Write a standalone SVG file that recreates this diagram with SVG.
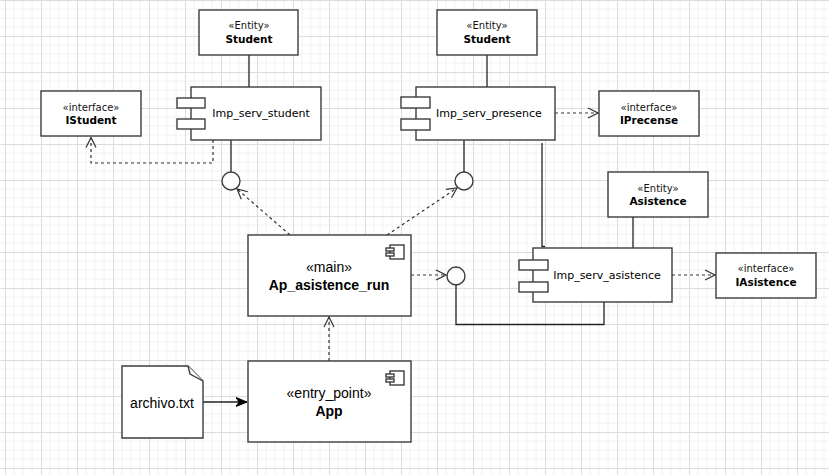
<svg xmlns="http://www.w3.org/2000/svg" width="829" height="475" viewBox="0 0 829 475">
<defs>
<pattern id="grid" patternUnits="userSpaceOnUse" x="5" y="0" width="36" height="36">
<path d="M9,0V36M18,0V36M27,0V36M0,9H36M0,18H36M0,27H36" stroke="#f2f2f2" stroke-width="1" fill="none"/>
<path d="M0.5,0V36M0,0.5H36" stroke="#dcdcdc" stroke-width="1" fill="none"/>
</pattern>
<marker id="open" markerUnits="userSpaceOnUse" viewBox="0 0 12 12" refX="11" refY="6" markerWidth="12" markerHeight="12" orient="auto">
<path d="M1,1 L11,6 L1,11" fill="none" stroke="#333" stroke-width="1.2"/>
</marker>
<marker id="block" markerUnits="userSpaceOnUse" viewBox="0 0 12 10" refX="11" refY="5" markerWidth="12" markerHeight="10" orient="auto">
<path d="M0,0.5 L11,5 L0,9.5 L3,5 Z" fill="#000" stroke="#000" stroke-width="1"/>
</marker>
</defs>
<style>
.box{fill:#fff;stroke:#3c3c3c;stroke-width:1.4}
.ln{fill:none;stroke:#222;stroke-width:1.3}
.dash{fill:none;stroke:#333;stroke-width:1.2;stroke-dasharray:3 3}
.st{font-family:"DejaVu Sans",Verdana,sans-serif;font-size:10px;fill:#111;text-anchor:middle}
.nm{font-family:"DejaVu Sans",Verdana,sans-serif;font-size:10.5px;font-weight:bold;fill:#000;text-anchor:middle}
.cp{font-family:"DejaVu Sans",Verdana,sans-serif;font-size:11px;fill:#000;text-anchor:middle}
.hs{font-family:"Liberation Sans",Arial,sans-serif;font-size:14px;fill:#000;text-anchor:middle}
.hb{font-family:"Liberation Sans",Arial,sans-serif;font-size:14px;font-weight:bold;fill:#000;text-anchor:middle}
</style>
<rect width="829" height="475" fill="#fff"/>
<rect width="829" height="475" fill="url(#grid)"/>

<g id="connectors">
<line class="ln" x1="249" y1="55" x2="249" y2="87"/>
<line class="ln" x1="487" y1="55" x2="487" y2="87"/>
<line class="ln" x1="633" y1="217" x2="633" y2="248"/>
<line class="ln" x1="231" y1="140" x2="231" y2="172"/>
<line class="ln" x1="464" y1="140" x2="464" y2="172"/>
<path class="ln" d="M542,143 V246.5 H545"/>
<path class="ln" d="M456,285 V324.5 H604 V302"/>
<path class="dash" d="M213,140 V163 H91 V137.5" marker-end="url(#open)"/>
<line class="dash" x1="555" y1="113" x2="598" y2="113" marker-end="url(#open)"/>
<line class="dash" x1="672" y1="275" x2="715" y2="275" marker-end="url(#open)"/>
<line class="dash" x1="290" y1="235" x2="237" y2="189" marker-end="url(#open)"/>
<line class="dash" x1="387" y1="235" x2="457" y2="188" marker-end="url(#open)"/>
<line class="dash" x1="411" y1="275" x2="446" y2="275" marker-end="url(#open)"/>
<line class="dash" x1="329" y1="361" x2="329" y2="317" marker-end="url(#open)"/>
<line class="ln" x1="203" y1="402" x2="247" y2="402" stroke="#000" marker-end="url(#block)"/>
<circle class="box" cx="231" cy="181" r="9" stroke="#222"/>
<circle class="box" cx="464" cy="181" r="9" stroke="#222"/>
<circle class="box" cx="456" cy="276" r="9" stroke="#222"/>
</g>

<g id="student1">
<rect class="box" x="199" y="10" width="99" height="45"/>
<text class="st" x="249" y="29">«Entity»</text>
<text class="nm" x="249" y="43">Student</text>
</g>
<g id="student2">
<rect class="box" x="437" y="10" width="100" height="45"/>
<text class="st" x="487" y="29">«Entity»</text>
<text class="nm" x="487" y="43">Student</text>
</g>
<g id="istudent">
<rect class="box" x="41" y="91" width="100" height="45"/>
<text class="st" x="91" y="111">«interface»</text>
<text class="nm" x="91" y="124">IStudent</text>
</g>
<g id="iprecense">
<rect class="box" x="599" y="91" width="100" height="45"/>
<text class="st" x="649" y="111">«interface»</text>
<text class="nm" x="649" y="124">IPrecense</text>
</g>
<g id="asistence">
<rect class="box" x="608" y="172" width="100" height="45"/>
<text class="st" x="658" y="192">«Entity»</text>
<text class="nm" x="658" y="205">Asistence</text>
</g>
<g id="iasistence">
<rect class="box" x="716" y="253" width="100" height="45"/>
<text class="st" x="766" y="272">«interface»</text>
<text class="nm" x="766" y="286">IAsistence</text>
</g>

<g id="imp_serv_student">
<rect class="box" x="191" y="87" width="130" height="53"/>
<rect class="box" x="177" y="98" width="28" height="10"/>
<rect class="box" x="177" y="119" width="28" height="10"/>
<text class="cp" x="261" y="117">Imp_serv_student</text>
</g>
<g id="imp_serv_presence">
<rect class="box" x="416" y="87" width="139" height="53"/>
<rect class="box" x="401" y="97" width="29" height="11"/>
<rect class="box" x="401" y="119" width="29" height="11"/>
<text class="cp" x="489" y="117">Imp_serv_presence</text>
</g>
<g id="imp_serv_asistence">
<rect class="box" x="533" y="248" width="139" height="54"/>
<rect class="box" x="519" y="260" width="29" height="10"/>
<rect class="box" x="519" y="282" width="29" height="10"/>
<text class="cp" x="607" y="279">Imp_serv_asistence</text>
</g>

<g id="ap_asistence_run">
<rect class="box" x="248" y="235" width="163" height="81"/>
<rect class="box" x="390" y="245" width="14" height="14" stroke-width="1.1"/>
<rect class="box" x="386" y="248" width="8" height="3" stroke-width="1.1"/>
<rect class="box" x="386" y="253" width="8" height="3" stroke-width="1.1"/>
<text class="hs" x="329" y="272">«main»</text>
<text class="hb" x="329" y="290">Ap_asistence_run</text>
</g>
<g id="app">
<rect class="box" x="248" y="361" width="163" height="81"/>
<rect class="box" x="390" y="371" width="14" height="14" stroke-width="1.1"/>
<rect class="box" x="386" y="374" width="8" height="3" stroke-width="1.1"/>
<rect class="box" x="386" y="379" width="8" height="3" stroke-width="1.1"/>
<text class="hs" x="329" y="398">«entry_point»</text>
<text class="hb" x="329" y="416">App</text>
</g>
<g id="archivo">
<path class="box" d="M122,366 H188 L203,381 V438 H122 Z"/>
<path class="box" d="M188,366 L190,374 L203,381" fill="none"/>
<text class="hs" x="162" y="408">archivo.txt</text>
</g>
</svg>
